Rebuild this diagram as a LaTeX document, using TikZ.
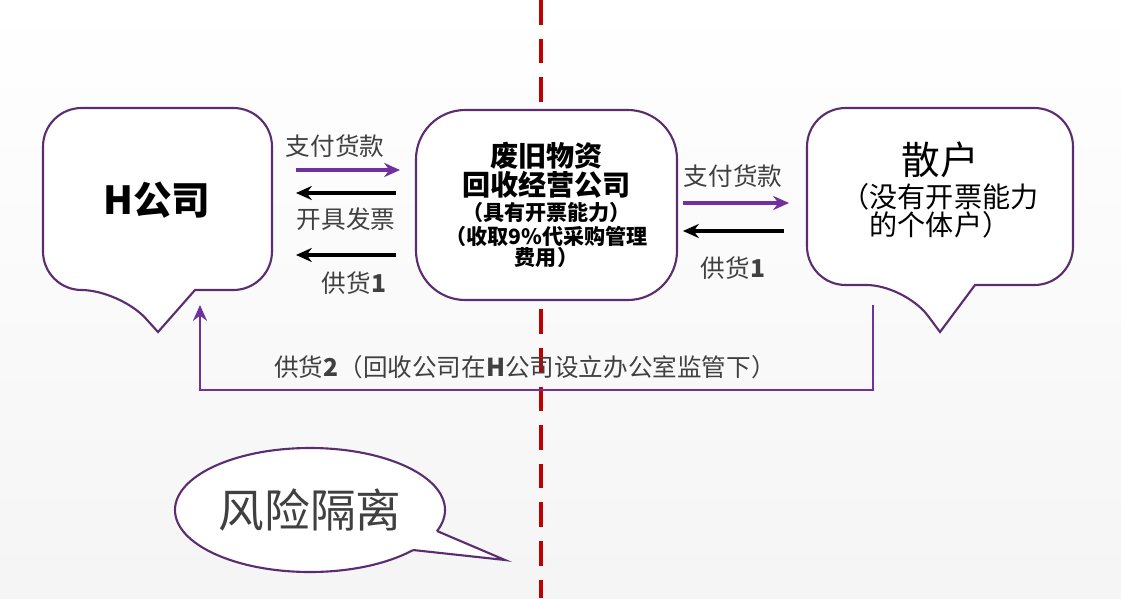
\documentclass[tikz,border=0pt]{standalone}
\usepackage{fontspec}
\setmainfont{Noto Sans CJK SC}
\usetikzlibrary{arrows.meta}
\definecolor{pur}{HTML}{5B2C6F}
\definecolor{parrow}{HTML}{7030A0}
\definecolor{dred}{HTML}{C00000}
\definecolor{txt}{HTML}{404040}
\tikzset{
 box/.style={draw=pur,line width=1.2pt,fill=white},
 parr/.style={draw=parrow,line width=1.8pt,-{Stealth[length=9pt,width=8pt]}},
 barr/.style={draw=black,line width=1.8pt,-{Stealth[length=9pt,width=8pt]}},
 lbl/.style={text=txt,font=\fontsize{14}{16}\selectfont},
}
\begin{document}
\begin{tikzpicture}[x=0.02cm,y=-0.02cm]
\shade[top color=white,bottom color=gray!8] (0,0) rectangle (1121,598);
\useasboundingbox (0,0) rectangle (1121,598);
\draw[dred,line width=2.2pt,dash pattern=on 14pt off 8pt] (541,0) -- (541,598);
% left callout
\draw[box] (195,290) [rounded corners=22] -- (272,290) -- (272,108) -- (43,108) -- (43,290) -- (120,290) [sharp corners] -- (158,332) -- cycle;
\node (h) at (157,200) {\fontsize{22}{24}\selectfont\bfseries H公司};
% right callout
\draw[box] (975,285) [rounded corners=22] -- (1073,285) -- (1073,108) -- (807,108) -- (807,285) -- (905,285) [sharp corners] -- (940,332) -- cycle;
\node[align=center] (s) at (940,190) {{\fontsize{22}{26}\selectfont 散户}\\[2pt]{\fontsize{16}{20}\selectfont （没有开票能力}\\{\fontsize{16}{20}\selectfont 的个体户）}};
% middle box
\node[box,rounded corners=28,minimum width=261*0.02cm,minimum height=190*0.02cm] (m) at (546.5,205) {};
\node[align=center,font=\bfseries] (mt) at (546.5,205) {{\fontsize{16}{19}\selectfont 废旧物资}\\{\fontsize{16}{19}\selectfont 回收经营公司}\\[2pt]{\fontsize{12}{15}\selectfont （具有开票能力）}\\[2pt]{\fontsize{12}{15}\selectfont （收取9\%代采购管理}\\{\fontsize{12}{15}\selectfont 费用）}};
% left arrows
\coordinate (a1s) at (296,170); \coordinate (a1e) at (400,170);
\draw[parr] (a1s) -- (a1e);
\node[lbl] (l1) at (335,146) {支付货款};
\coordinate (a2s) at (396,193); \coordinate (a2e) at (296,193);
\draw[barr] (a2s) -- (a2e);
\node[lbl] (l2) at (346,219) {开具发票};
\coordinate (a3s) at (396,255); \coordinate (a3e) at (296,255);
\draw[barr] (a3s) -- (a3e);
\node[lbl] (l3) at (354,283) {供货\textbf{1}};
% right arrows
\coordinate (b1s) at (683,203); \coordinate (b1e) at (789,203);
\draw[parr] (b1s) -- (b1e);
\node[lbl] (r1) at (733,176) {支付货款};
\coordinate (b2s) at (784,231); \coordinate (b2e) at (683,231);
\draw[barr] (b2s) -- (b2e);
\node[lbl] (r2) at (733,268) {供货\textbf{1}};
% bottom path
\coordinate (c1) at (873,305); \coordinate (c2) at (200,305);
\draw[parr,line width=1.5pt] (c1) -- (873,390) -- (200,390) -- (c2);
\node[lbl] (l4) at (525,367) {供货\textbf{2}（回收公司在\textbf{H}公司设立办公室监管下）};
% ellipse callout
\draw[box] (310,510) ellipse [x radius=135,y radius=62];
\fill[white] (437,531) -- (505,560) -- (413,550) -- (400,530) -- cycle;
\draw[pur,line width=1.2pt] (437,531) -- (505,560) -- (413,550);
\node[text=txt] (fx) at (310,510) {\fontsize{26}{30}\selectfont 风险隔离};
\end{tikzpicture}
\end{document}
